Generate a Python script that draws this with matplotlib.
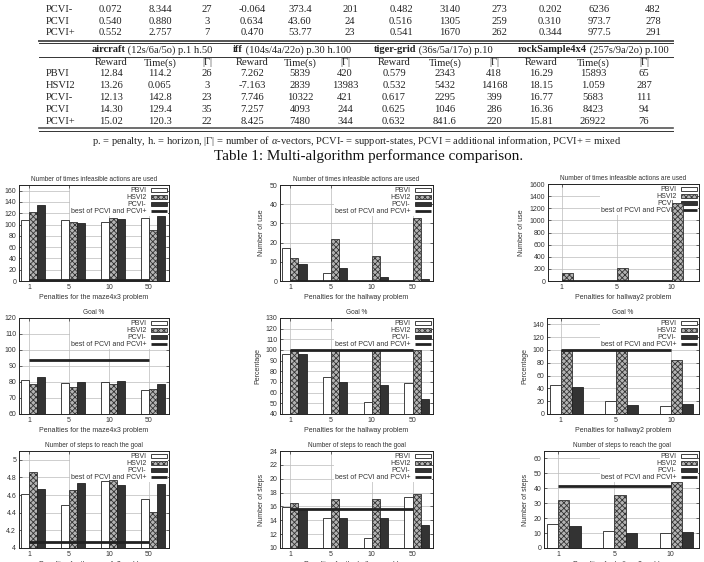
import numpy as np
import matplotlib.pyplot as plt
from matplotlib.lines import Line2D

plt.rcParams['font.family'] = ['Liberation Sans', 'DejaVu Sans']
plt.rcParams['mathtext.fontset'] = 'custom'
plt.rcParams['mathtext.rm'] = 'Liberation Serif'
plt.rcParams['mathtext.it'] = 'Liberation Serif:italic'
plt.rcParams['hatch.linewidth'] = 0.6

# ---- table data ----
top_rows = ['PCVI-', 'PCVI', 'PCVI+']
top_values = [
    ['0.072', '8.344', '27', '-0.064', '373.4', '201', '0.482', '3140', '273', '0.202', '6236', '482'],
    ['0.540', '0.880', '3', '0.634', '43.60', '24', '0.516', '1305', '259', '0.310', '973.7', '278'],
    ['0.552', '2.757', '7', '0.470', '53.77', '23', '0.541', '1670', '262', '0.344', '977.5', '291'],
]
problem_names = ['aircraft', 'iff', 'tiger-grid', 'rockSample4x4']
problem_info = ['(12s/6a/5o) p.1 h.50', '(104s/4a/22o) p.30 h.100',
                '(36s/5a/17o) p.10', '(257s/9a/2o) p.100']
col_headers = ['Reward', 'Time(s)', '|Γ|'] * 4
algo_rows = ['PBVI', 'HSVI2', 'PCVI-', 'PCVI', 'PCVI+']
algo_values = [
    ['12.84', '114.2', '26', '7.262', '5839', '420', '0.579', '2343', '418', '16.29', '15893', '65'],
    ['13.26', '0.065', '3', '-7.163', '2839', '13983', '0.532', '5432', '14168', '18.15', '1.059', '287'],
    ['12.13', '142.8', '23', '7.746', '10322', '421', '0.617', '2295', '399', '16.77', '5683', '111'],
    ['14.30', '129.4', '35', '7.257', '4093', '244', '0.625', '1046', '286', '16.36', '8423', '94'],
    ['15.02', '120.3', '22', '8.425', '7480', '344', '0.632', '841.6', '220', '15.81', '26922', '76'],
]
footnote = (r'p. = penalty, h. = horizon, |Γ| = number of $\alpha$-vectors, '
            'PCVI- = support-states, PCVI = additional information, PCVI+ = mixed')
caption = 'Table 1: Multi-algorithm performance comparison.'

# ---- chart data ----
series_names = ['PBVI', 'HSVI2', 'PCVI-', 'best of PCVI and PCVI+']
penalties_4 = ['1', '5', '10', '50']
penalties_3 = ['1', '5', '10']

maze_inf_pbvi = [108, 108, 104, 111]
maze_inf_hsvi2 = [123, 104, 112, 91]
maze_inf_pcvim = [134, 102, 110, 115]
maze_inf_best = [1, 1, 1, 1]

hall_inf_pbvi = [17, 4, 0, 0]
hall_inf_hsvi2 = [12, 22, 13, 33]
hall_inf_pcvim = [9, 7, 2, 1]
hall_inf_best = [0, 0, 0, 0]

hall2_inf_pbvi = [0, 0, 0]
hall2_inf_hsvi2 = [127, 221, 1279]
hall2_inf_pcvim = [0, 0, 0]
hall2_inf_best = [0, 0, 0]

maze_goal_pbvi = [81.1, 79.2, 80.0, 75.3]
maze_goal_hsvi2 = [78.8, 77.0, 78.8, 75.9]
maze_goal_pcvim = [83.0, 80.0, 80.5, 78.6]
maze_goal_best = [93.5, 93.5, 93.5, 93.5]

hall_goal_pbvi = [95.8, 74.3, 51.3, 69.4]
hall_goal_hsvi2 = [100, 100, 100, 100]
hall_goal_pcvim = [96.1, 70.0, 67.0, 53.8]
hall_goal_best = [100, 100, 100, 100]

hall2_goal_pbvi = [44.8, 20.3, 12.5]
hall2_goal_hsvi2 = [100, 100, 83.8]
hall2_goal_pcvim = [41.6, 14.6, 15.6]
hall2_goal_best = [100, 100, 100]

maze_steps_pbvi = [4.607, 4.485, 4.756, 4.553]
maze_steps_hsvi2 = [4.863, 4.656, 4.767, 4.41]
maze_steps_pcvim = [4.672, 4.74, 4.714, 4.725]
maze_steps_best = [4.069, 4.069, 4.069, 4.069]

hall_steps_pbvi = [15.96, 14.4, 11.45, 17.4]
hall_steps_hsvi2 = [16.44, 17.0, 17.07, 17.85]
hall_steps_pcvim = [15.57, 14.4, 14.4, 13.34]
hall_steps_best = [15.57, 15.57, 15.57, 15.57]

hall2_steps_pbvi = [16.0, 11.7, 10.2]
hall2_steps_hsvi2 = [32.0, 35.4, 44.2]
hall2_steps_pcvim = [14.9, 9.9, 11.0]
hall2_steps_best = [41.5, 41.5, 41.5]

W, H = 704, 562
fig = plt.figure(figsize=(W / 100, H / 100), dpi=100)
renderer = fig.canvas.get_renderer()


def fx(x):
    return x / W


def fy(y):
    return 1 - y / H


def hline(y, lw=0.8, color='#333333'):
    fig.add_artist(Line2D([fx(39), fx(673)], [fy(y), fy(y)], lw=lw,
                          color=color, transform=fig.transFigure))


# ---- table ----
serif = dict(family='Liberation Serif', fontsize=7.6, color='#222222')
top_cols = [110, 160, 207, 252, 300, 350, 401, 450, 499, 550, 599, 653]
low_cols = [111, 160, 207, 252, 300, 345, 394, 445, 494, 541, 593, 644]
head_cols = [152, 292, 433, 593]

for name, vals, y in zip(top_rows, top_values, [9.5, 21, 32.5]):
    fig.text(fx(46), fy(y), name, ha='left', va='center', **serif)
    for v, x in zip(vals, top_cols):
        fig.text(fx(x), fy(y), v, ha='center', va='center', **serif)

hline(40.8, lw=1.4, color='#555555')
hline(43.2, lw=0.7)
# header: bold problem name followed by regular info, centred as one piece
for name, info, x in zip(problem_names, problem_info, head_cols):
    t1 = fig.text(0, fy(50), name, ha='left', va='center', fontweight='bold', **serif)
    t2 = fig.text(0, fy(50), ' ' + info, ha='left', va='center', **serif)
    w1 = t1.get_window_extent(renderer).width
    w2 = t2.get_window_extent(renderer).width
    x0 = x - (w1 + w2) / 2
    t1.set_x(fx(x0))
    t2.set_x(fx(x0 + w1))
hline(56.7, lw=0.7)
for h, x in zip(col_headers, low_cols):
    fig.text(fx(x), fy(62.7), h, ha='center', va='center', **serif)
for i, (name, vals) in enumerate(zip(algo_rows, algo_values)):
    y = 74 + i * 11.9
    fig.text(fx(46), fy(y), name, ha='left', va='center', **serif)
    for v, x in zip(vals, low_cols):
        fig.text(fx(x), fy(y), v, ha='center', va='center', **serif)
hline(128.3, lw=1.2, color='#555555')
hline(130.8, lw=0.7)
fig.text(fx(357), fy(141), footnote, ha='center', va='center', **serif)
fig.text(fx(369), fy(156), caption, ha='center', va='center',
         family='Liberation Serif', fontsize=10.9, color='#111111')

# ---- charts ----
panels = [
    # (left, top, right, bottom) px, penalties, series, ylim, yticks, title, ylabel, xlabel
    ((19, 185, 169, 281), penalties_4,
     (maze_inf_pbvi, maze_inf_hsvi2, maze_inf_pcvim, maze_inf_best),
     (0, 170), np.arange(0, 161, 20), 'Number of times infeasible actions are used',
     '', 'Penalties for the maze4x3 problem'),
    ((280, 185, 433, 281), penalties_4,
     (hall_inf_pbvi, hall_inf_hsvi2, hall_inf_pcvim, hall_inf_best),
     (0, 50), np.arange(0, 51, 10), 'Number of times infeasible actions are used',
     'Number of use', 'Penalties for the hallway problem'),
    ((548, 184, 699, 281), penalties_3,
     (hall2_inf_pbvi, hall2_inf_hsvi2, hall2_inf_pcvim, hall2_inf_best),
     (0, 1600), np.arange(0, 1601, 200), 'Number of times infeasible actions are used',
     'Number of use', 'Penalties for hallway2 problem'),
    ((19, 318, 169, 414), penalties_4,
     (maze_goal_pbvi, maze_goal_hsvi2, maze_goal_pcvim, maze_goal_best),
     (60, 120), np.arange(60, 121, 10), 'Goal %',
     '', 'Penalties for the maze4x3 problem'),
    ((280, 318, 433, 414), penalties_4,
     (hall_goal_pbvi, hall_goal_hsvi2, hall_goal_pcvim, hall_goal_best),
     (40, 130), np.arange(40, 131, 10), 'Goal %',
     'Percentage', 'Penalties for the hallway problem'),
    ((547, 318, 699, 414), penalties_3,
     (hall2_goal_pbvi, hall2_goal_hsvi2, hall2_goal_pcvim, hall2_goal_best),
     (0, 150), np.arange(0, 141, 20), 'Goal %',
     'Percentage', 'Penalties for hallway2 problem'),
    ((19, 451, 169, 548), penalties_4,
     (maze_steps_pbvi, maze_steps_hsvi2, maze_steps_pcvim, maze_steps_best),
     (4, 5.1), np.arange(4, 5.01, 0.2), 'Number of steps to reach the goal',
     '', 'Penalties for the maze4x3 problem'),
    ((280, 451, 433, 548), penalties_4,
     (hall_steps_pbvi, hall_steps_hsvi2, hall_steps_pcvim, hall_steps_best),
     (10, 24), np.arange(10, 25, 2), 'Number of steps to reach the goal',
     'Number of steps', 'Penalties for the hallway problem'),
    ((544, 451, 699, 548), penalties_3,
     (hall2_steps_pbvi, hall2_steps_hsvi2, hall2_steps_pcvim, hall2_steps_best),
     (0, 65), np.arange(0, 61, 10), 'Number of steps to reach the goal',
     'Number of steps', 'Penalties for hallway2 problem'),
]

fs = 4.7
w = 0.2
for (l, t, r, b), pens, (pbvi, hsvi2, pcvim, best), ylim, yticks, title, ylab, xlab in panels:
    ax = fig.add_axes([fx(l), fy(b), fx(r - l), (b - t) / H])
    x = np.arange(len(pens))
    h1 = ax.bar(x - 0.5 * w, pbvi, w, color='white', edgecolor='#222222', lw=0.6,
                label=series_names[0], zorder=2)
    h2 = ax.bar(x + 0.5 * w, hsvi2, w, color='#b4b4b4', edgecolor='#333333', lw=0.6,
                hatch='xxxxxx', label=series_names[1], zorder=2)
    h3 = ax.bar(x + 1.5 * w, pcvim, w, color='#333333', edgecolor='#222222', lw=0.6,
                label=series_names[2], zorder=2)
    h4, = ax.plot(x, best, color='#222222', lw=2.0, solid_capstyle='butt',
                  label=series_names[3], zorder=3)
    ax.set_xlim(-0.25, len(pens) - 0.5)
    ax.set_ylim(*ylim)
    ax.set_xticks(x)
    ax.set_xticklabels(pens)
    ax.set_yticks(yticks)
    ax.set_yticklabels(['%g' % round(v, 2) for v in yticks])
    ax.tick_params(direction='in', top=True, right=True, length=2.5, width=0.5,
                   labelsize=5.0, pad=2, colors='#333333')
    ax.grid(True, color='#bbbbbb', lw=0.5, zorder=0)
    ax.set_axisbelow(True)
    for s in ax.spines.values():
        s.set_linewidth(0.7)
        s.set_color('#222222')
    ax.set_title(title, fontsize=fs, pad=3, color='#333333')
    ax.set_xlabel(xlab, fontsize=fs + 0.3, labelpad=2, color='#333333')
    if ylab:
        ax.set_ylabel(ylab, fontsize=fs + 0.3, labelpad=3, color='#333333')
    leg = ax.legend([h1, h2, h3, h4], series_names, loc='upper right', fontsize=5.0,
                    markerfirst=False, handlelength=2.3, handleheight=0.5,
                    handletextpad=0.6, labelspacing=0.0, borderaxespad=0.2,
                    borderpad=0.15, frameon=True, fancybox=False, framealpha=1.0)
    leg.get_frame().set_edgecolor('none')
    leg.get_frame().set_facecolor('white')
    leg.set_zorder(1.5)
    for txt in leg.get_texts():
        txt.set_color('#333333')

fig.savefig('out.png', dpi=100)
